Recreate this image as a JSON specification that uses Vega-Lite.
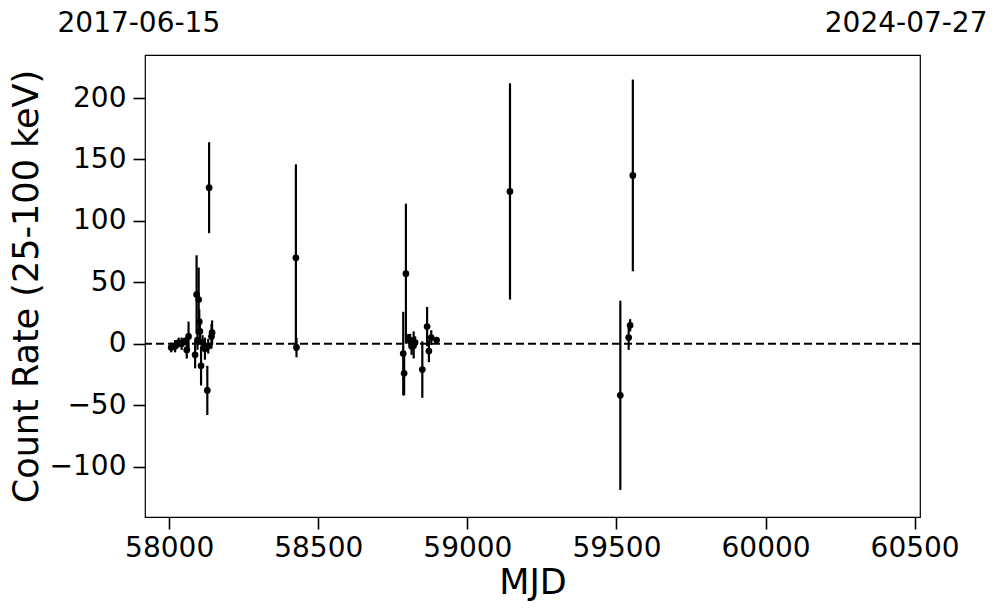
{
  "$schema": "https://vega.github.io/schema/vega-lite/v6.json",
  "autosize": {"type": "none"},
  "width": 775,
  "height": 462,
  "padding": {"left": 145, "top": 55, "right": 77, "bottom": 96},
  "background": "white",
  "config": {
    "font": "DejaVu Sans",
    "view": {"stroke": "black", "strokeWidth": 1.2},
    "axis": {
      "labelColor": "black",
      "titleColor": "black",
      "tickColor": "black",
      "domain": false,
      "grid": false,
      "labelFont": "DejaVu Sans",
      "titleFont": "DejaVu Sans",
      "titleFontWeight": "normal"
    }
  },
  "datasets": {
    "obs": [
      {"mjd": 58007, "rate": -3, "err": 4},
      {"mjd": 58020, "rate": -2, "err": 5},
      {"mjd": 58032, "rate": 1, "err": 4},
      {"mjd": 58042, "rate": 0, "err": 5},
      {"mjd": 58052, "rate": 2, "err": 3},
      {"mjd": 58059, "rate": -5, "err": 7},
      {"mjd": 58065, "rate": 6, "err": 12},
      {"mjd": 58087, "rate": -9, "err": 11},
      {"mjd": 58092, "rate": 40, "err": 32},
      {"mjd": 58095, "rate": 3, "err": 8},
      {"mjd": 58099, "rate": 36, "err": 26},
      {"mjd": 58101, "rate": 18, "err": 10},
      {"mjd": 58103, "rate": 10, "err": 8},
      {"mjd": 58107, "rate": -18, "err": 16},
      {"mjd": 58112, "rate": 1, "err": 6},
      {"mjd": 58120, "rate": -4, "err": 9},
      {"mjd": 58128, "rate": -38, "err": 20},
      {"mjd": 58131, "rate": -2, "err": 6},
      {"mjd": 58134, "rate": 127, "err": 37},
      {"mjd": 58142, "rate": 6, "err": 10},
      {"mjd": 58144, "rate": 9, "err": 10},
      {"mjd": 58425, "rate": 70, "err": 76},
      {"mjd": 58427, "rate": -3, "err": 8},
      {"mjd": 58785, "rate": -8, "err": 34},
      {"mjd": 58788, "rate": -24, "err": 18},
      {"mjd": 58794, "rate": 57, "err": 57},
      {"mjd": 58802, "rate": 4, "err": 4},
      {"mjd": 58808, "rate": 3, "err": 5},
      {"mjd": 58813, "rate": -2, "err": 7},
      {"mjd": 58820, "rate": -1, "err": 11},
      {"mjd": 58825, "rate": 1, "err": 5},
      {"mjd": 58849, "rate": -21, "err": 23},
      {"mjd": 58865, "rate": 14, "err": 16},
      {"mjd": 58871, "rate": -6, "err": 9},
      {"mjd": 58879, "rate": 5, "err": 6},
      {"mjd": 58897, "rate": 3, "err": 2},
      {"mjd": 59143, "rate": 124, "err": 88},
      {"mjd": 59513, "rate": -42, "err": 77},
      {"mjd": 59541, "rate": 5, "err": 10},
      {"mjd": 59546, "rate": 15, "err": 5},
      {"mjd": 59555, "rate": 137, "err": 78}
    ]
  },
  "layer": [
    {
      "data": {"values": [{"zero": 0}]},
      "mark": {"type": "rule", "color": "black", "strokeWidth": 2, "strokeDash": [8, 4]},
      "encoding": {
        "y": {
          "field": "zero", "type": "quantitative",
          "scale": {"domain": [-141, 235], "nice": false, "zero": false},
          "title": "Count Rate (25-100 keV)"
        }
      }
    },
    {
      "data": {"name": "obs"},
      "mark": {"type": "errorbar", "color": "black", "thickness": 2.2},
      "encoding": {
        "x": {
          "field": "mjd", "type": "quantitative",
          "scale": {"domain": [57919, 60518], "nice": false, "zero": false},
          "axis": {
            "orient": "bottom",
            "values": [58000, 58500, 59000, 59500, 60000, 60500],
            "format": "d",
            "tickSize": 12,
            "tickWidth": 1.6,
            "labelFontSize": 28,
            "labelPadding": 5,
            "title": "MJD",
            "titleFontSize": 35,
            "titlePadding": 3
          }
        },
        "y": {
          "field": "rate", "type": "quantitative",
          "scale": {"domain": [-141, 235], "nice": false, "zero": false},
          "title": "Count Rate (25-100 keV)",
          "axis": {
            "values": [-100, -50, 0, 50, 100, 150, 200],
            "tickSize": 12,
            "tickWidth": 1.6,
            "labelFontSize": 28,
            "labelPadding": 7,
            "titleFontSize": 35,
            "titlePadding": 5
          }
        },
        "yError": {"field": "err"}
      }
    },
    {
      "data": {"name": "obs"},
      "mark": {"type": "point", "filled": true, "size": 45, "color": "black", "opacity": 1},
      "encoding": {
        "x": {
          "field": "mjd", "type": "quantitative",
          "scale": {"domain": [57919, 60518], "nice": false, "zero": false},
          "axis": {
            "orient": "top",
            "values": [57919, 60518],
            "labelExpr": "datum.value < 59000 ? '2017-06-15' : '2024-07-27'",
            "ticks": false,
            "title": null,
            "labelFontSize": 28,
            "labelPadding": 18,
            "labelFlush": false,
            "labelOverlap": false,
            "labelBound": false,
            "labelAlign": {"condition": {"test": "datum.value < 59000", "value": "left"}, "value": "right"},
            "labelOffset": {"condition": {"test": "datum.value < 59000", "value": -88}, "value": 67}
          }
        },
        "y": {
          "field": "rate", "type": "quantitative",
          "scale": {"domain": [-141, 235], "nice": false, "zero": false},
          "title": "Count Rate (25-100 keV)"
        }
      }
    }
  ],
  "resolve": {"axis": {"x": "independent"}}
}
